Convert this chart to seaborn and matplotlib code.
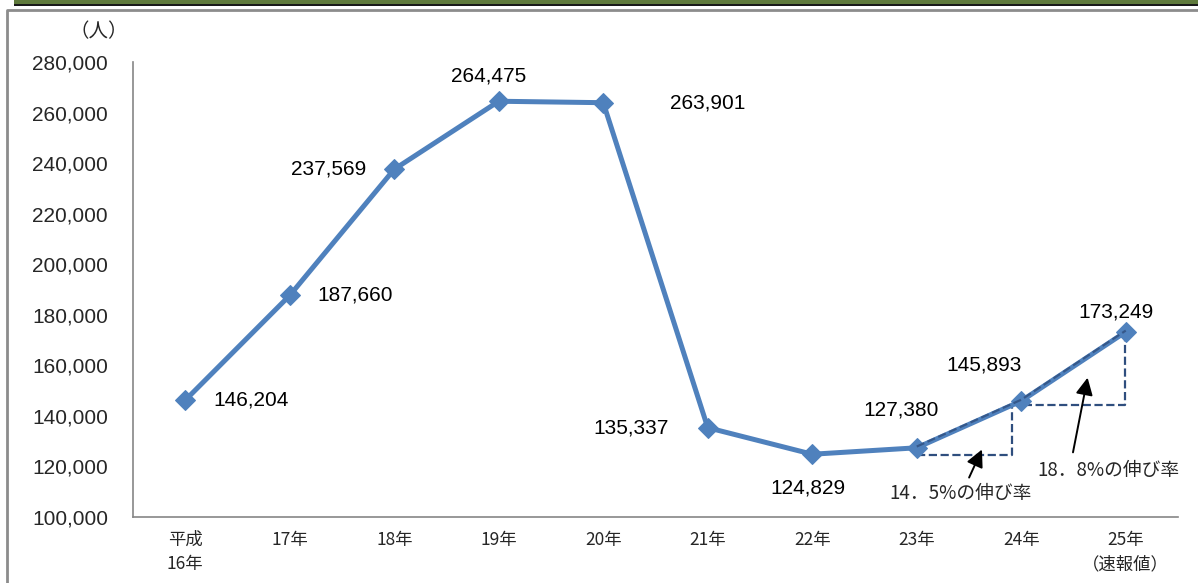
import matplotlib
matplotlib.use('Agg')
import matplotlib.pyplot as plt
from matplotlib.patches import Rectangle
import seaborn as sns
import pandas as pd

# datos
years = ['平成\n16年', '17年', '18年', '19年', '20年', '21年', '22年', '23年', '24年', '25年\n（速報値）']
values = [146204, 187660, 237569, 264475, 263901, 135337, 124829, 127380, 145893, 173249]
value_labels = ['146,204', '187,660', '237,569', '264,475', '263,901',
                '135,337', '124,829', '127,380', '145,893', '173,249']
yticks = [100000, 120000, 140000, 160000, 180000, 200000, 220000, 240000, 260000, 280000]
growth_texts = ['14．5%の伸び率', '18．8%の伸び率']

sns.set_style('white')
plt.rcParams['font.family'] = ['Liberation Sans', 'Noto Sans CJK JP', 'DejaVu Sans']

df = pd.DataFrame({'x': list(range(len(values))), 'y': values})

fig = plt.figure(figsize=(11.98, 5.83), dpi=100)
ax = fig.add_axes([133 / 1198, 1 - 517 / 583, 1045 / 1198, 455 / 583])

blue = '#4F81BD'
sns.lineplot(data=df, x='x', y='y', ax=ax, color=blue, linewidth=3.6,
             marker='D', markersize=10, markeredgecolor=blue, zorder=3)

# etiquetas de datos (desplazamiento en puntos)
offsets = [(20, 0, 'left'), (20, 0, 'left'), (-20, 0, 'right'), (-7, 18, 'center'),
           (48, 0, 'left'), (-28, 0, 'right'), (-3, -24, 'center'), (-11, 27, 'center'),
           (-27, 26, 'center'), (-7, 14, 'center')]
for i, (v, lab) in enumerate(zip(values, value_labels)):
    dx, dy, ha = offsets[i]
    ax.annotate(lab, (i, v), xytext=(dx, dy), textcoords='offset points',
                ha=ha, va='center', fontsize=15, color='black')

# triangulos de crecimiento
dash = '#2F4E7E'
h1 = values[7] - 2900
h2 = values[8] - 1600
ax.plot([7, 7.91, 7.91], [h1, h1, h2], ls='--', color=dash, lw=1.6, zorder=2)
ax.plot([7.91, 8.99, 8.99], [h2, h2, values[9]], ls='--', color=dash, lw=1.6, zorder=2)
ax.plot([7, 8, 9], [values[7] + 500, values[8] + 500, values[9] + 500], ls='--',
        color=dash, lw=1.6, zorder=4, alpha=0.8)

ax.annotate('', xy=(7.635, 127700), xytext=(7.49, 114600),
            arrowprops=dict(arrowstyle='-|>', color='black', lw=1.4, mutation_scale=26))
ax.annotate('', xy=(8.64, 156200), xytext=(8.49, 124500),
            arrowprops=dict(arrowstyle='-|>', color='black', lw=1.4, mutation_scale=26))
ax.text(7.42, 109300, growth_texts[0], ha='center', va='center', fontsize=13.5,
        family=['Noto Sans CJK JP'])
ax.text(8.83, 118400, growth_texts[1], ha='center', va='center', fontsize=13.5,
        family=['Noto Sans CJK JP'])

# ejes
ax.set_xlim(-0.5, 9.5)
ax.set_ylim(100000, 280000)
ax.set_yticks(yticks)
ax.set_yticklabels([f'{t:,}' for t in yticks], fontsize=15)
ax.set_xticks(range(len(years)))
ax.set_xticklabels(years, fontsize=12.5, family=['Noto Sans CJK JP'], linespacing=1.45)
ax.set_xticks([i - 0.5 for i in range(len(years) + 1)], minor=True)
ax.tick_params(axis='x', which='major', length=0, pad=10)
ax.tick_params(axis='x', which='minor', length=4, color='#868686', width=1.2, direction='out')
ax.tick_params(axis='y', length=4, color='#868686', width=1.2, direction='out', pad=14)
ax.set_xlabel('')
ax.set_ylabel('')
for s in ['top', 'right']:
    ax.spines[s].set_visible(False)
for s in ['left', 'bottom']:
    ax.spines[s].set_color('#868686')
    ax.spines[s].set_linewidth(1.2)

fig.text(99 / 1198, 1 - 32 / 583, '（人）', ha='center', va='center', fontsize=14,
         family=['Noto Sans CJK JP'])

# marco
fig.patches.append(Rectangle((14 / 1198, 1 - 4 / 583), 1.0, 4 / 583, transform=fig.transFigure,
                             facecolor='#5F7A3C', edgecolor='none'))
fig.patches.append(Rectangle((14 / 1198, 1 - 6 / 583), 1.0, 2 / 583, transform=fig.transFigure,
                             facecolor='#1A1A1A', edgecolor='none'))
fig.add_artist(plt.Line2D([7 / 1198, 7 / 1198, 1.0], [0, 1 - 10 / 583, 1 - 10 / 583],
                          transform=fig.transFigure, color='#8C8C8C', lw=2))

fig.savefig('out.png', dpi=100)
